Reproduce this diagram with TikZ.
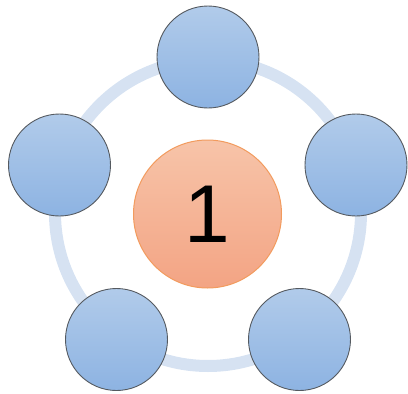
\documentclass[tikz,border=0pt]{standalone}
\usepackage{fontspec}
\setmainfont{Liberation Sans}
\definecolor{ringc}{HTML}{D6E2F2}
\definecolor{btop}{HTML}{B1CBEA}
\definecolor{bbot}{HTML}{8DB3E2}
\definecolor{bline}{HTML}{555A60}
\definecolor{otop}{HTML}{F7C4A9}
\definecolor{obot}{HTML}{F3A484}
\definecolor{oline}{HTML}{F29B5E}
\begin{document}
\begin{tikzpicture}[x=1pt,y=-1pt,
  sat/.style={circle,minimum size=102pt,inner sep=0pt,draw=bline,line width=0.9pt,top color=btop,bottom color=bbot},
  hub/.style={circle,minimum size=148pt,inner sep=0pt,draw=oline,line width=1pt,top color=otop,bottom color=obot,font=\fontsize{82}{82}\selectfont}]
\useasboundingbox (0,0) rectangle (408,394);
\coordinate (c) at (208,213);
\draw[ringc,line width=12pt] (c) circle[radius=153];
\node[hub] (h) at (207.5,214) {1};
\node[sat] (s1) at (208,57) {};
\node[sat] (s2) at (356,165) {};
\node[sat] (s3) at (299.5,339.5) {};
\node[sat] (s4) at (116.5,339.5) {};
\node[sat] (s5) at (59.5,165) {};
\end{tikzpicture}
\end{document}
